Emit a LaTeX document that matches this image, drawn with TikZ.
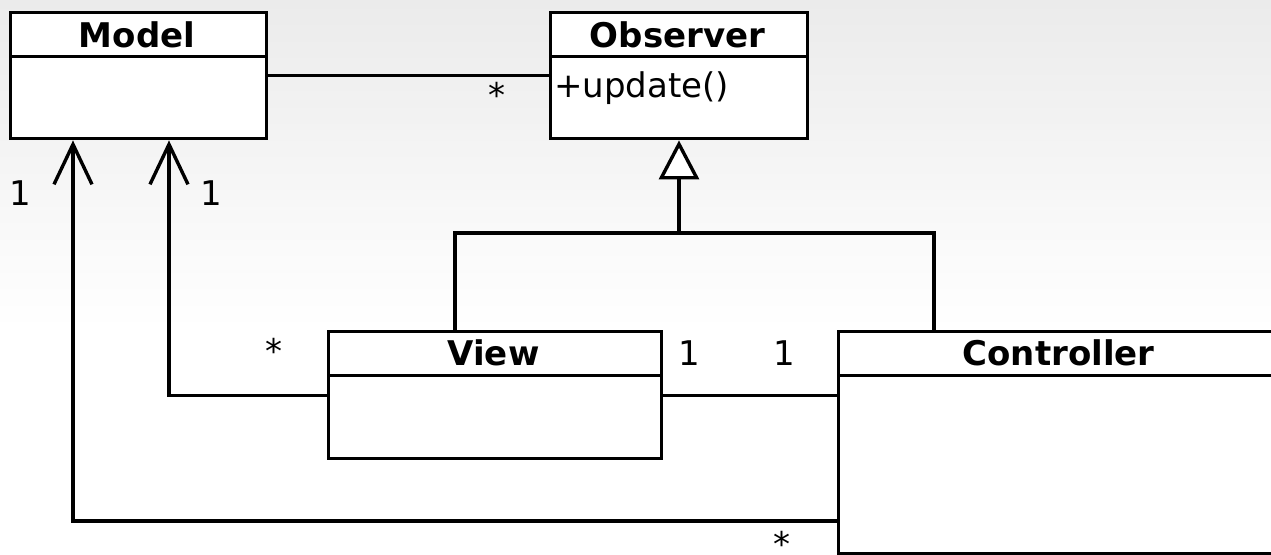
\documentclass[tikz,border=0pt]{standalone}
\usepackage{fontspec}
\setmainfont{DejaVu Sans}
\usetikzlibrary{arrows.meta}
\definecolor{bgtop}{RGB}{235,235,235}
\begin{document}
\begin{tikzpicture}[x=1pt,y=-1pt,
  classbox/.style={draw, line width=3.4pt, fill=white, inner sep=0pt, anchor=north west},
  clstitle/.style={font=\fontsize{34}{40}\selectfont\bfseries, inner sep=0pt, anchor=base},
  lbl/.style={font=\fontsize{34}{40}\selectfont, inner sep=0pt, anchor=base},
  conn/.style={line width=3.4pt},
  nav/.style={conn, -{Straight Barb[length=40pt,width=38pt]}},
  gen/.style={conn, -{Triangle[length=39pt,width=40pt,fill=white]}}]
\useasboundingbox (0,0) rectangle (1271,554);
\fill[white] (0,0) rectangle (1271,554);
\shade[top color=bgtop, bottom color=white] (0,0) rectangle (1271,330);

% classes
\node[classbox, minimum width=256pt, minimum height=126pt] (model) at (9,11) {};
\node[classbox, minimum width=257pt, minimum height=126pt] (observer) at (549,11) {};
\node[classbox, minimum width=333pt, minimum height=127pt] (view) at (327,330) {};
\node[classbox, minimum width=443pt, minimum height=222pt] (controller) at (837,330) {};

% header dividers
\foreach \c in {model,observer,view,controller}
  \draw[conn] ([yshift=-45.5pt]\c.north west) -- ([yshift=-45.5pt]\c.north east);

% titles
\node[clstitle] (modelt) at (137,47) {Model};
\node[clstitle] (observert) at (677.5,47) {Observer};
\node[clstitle] (viewt) at (493.5,365) {View};
\node[clstitle] (controllert) at (1058.5,365) {Controller};
\node[lbl, anchor=base west] (upd) at (554,97) {+update()};

% connectors
\coordinate (ma) at (73,521);
\coordinate (mb) at (169,393);
\coordinate (ga) at (455,233);
\coordinate (gb) at (934,233);
\coordinate (gt) at (679,233);
\draw[conn] (model.east) -- (observer.west);
\draw[nav] (ma -| controller.west) -- (ma) -- (ma |- model.south);
\draw[nav] (view.west) -| (mb |- model.south);
\draw[conn] (view.east) -- (view.east -| controller.west);
\draw[conn] (ga |- view.north) -- (ga) -- (gb) -- (gb |- controller.north);
\draw[gen] (gt) -- (gt |- observer.south);

% multiplicities
\node[lbl] (m1) at (497,107) {*};
\node[lbl] (m2) at (20.5,205) {1};
\node[lbl] (m3) at (211.5,205) {1};
\node[lbl] (m4) at (274,363) {*};
\node[lbl] (m5) at (689,365) {1};
\node[lbl] (m6) at (784,365) {1};
\node[lbl] (m7) at (782,556) {*};
\end{tikzpicture}
\end{document}
